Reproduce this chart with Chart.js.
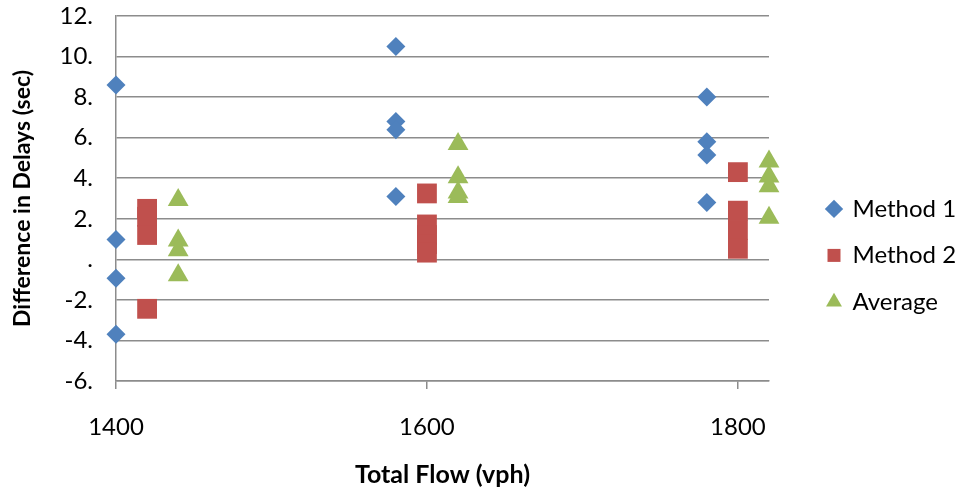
<!DOCTYPE html>
<html>
<head>
<meta charset="utf-8">
<script src="https://cdn.jsdelivr.net/npm/chart.js@4"></script>
<style>
  body { margin: 0; background: #fff; }
  #wrap { width: 966px; height: 494px; }
</style>
</head>
<body>
<div id="wrap"><canvas id="delay-chart" width="966" height="494"></canvas></div>
<script>
// values
const method1X = [1400, 1400, 1400, 1400, 1580, 1580, 1580, 1580, 1780, 1780, 1780, 1780];
const method1Y = [8.6, 0.98, -0.93, -3.7, 10.49, 6.8, 6.39, 3.1, 8.0, 5.8, 5.14, 2.8];

const method2X = [1420, 1420, 1420, 1420, 1600, 1600, 1600, 1600, 1600, 1800, 1800, 1800, 1800];
const method2Y = [2.49, 2.1, 1.2, -2.44, 3.25, 1.72, 1.2, 0.75, 0.33, 4.3, 2.4, 1.45, 0.52];

const averageX = [1440, 1440, 1440, 1440, 1620, 1620, 1620, 1620, 1820, 1820, 1820, 1820];
const averageY = [2.93, 0.93, 0.45, -0.78, 5.69, 4.05, 3.3, 3.07, 4.83, 4.09, 3.6, 2.05];

const xTicks = [1400, 1600, 1800];
const xTickLabels = ['1400', '1600', '1800'];
const yTicks = [-6, -4, -2, 0, 2, 4, 6, 8, 10, 12];
const yTickLabels = ['-6.', '-4.', '-2.', '.', '2.', '4.', '6.', '8.', '10.', '12.'];

const toPoints = (xs, ys) => xs.map((x, i) => ({ x: x, y: ys[i] }));

const font = 'Lato, "Open Sans", sans-serif';

const ctx = document.getElementById('delay-chart').getContext('2d');
new Chart(ctx, {
  type: 'scatter',
  data: {
    datasets: [
      {
        label: 'Method 1',
        data: toPoints(method1X, method1Y),
        pointStyle: 'rectRot',
        pointRadius: 9.5,
        backgroundColor: '#4F81BD',
        borderColor: '#4F81BD',
        borderWidth: 0,
        clip: false
      },
      {
        label: 'Method 2',
        data: toPoints(method2X, method2Y),
        pointStyle: 'rect',
        pointRadius: 14,
        backgroundColor: '#C0504D',
        borderColor: '#C0504D',
        borderWidth: 0,
        clip: false
      },
      {
        label: 'Average',
        data: toPoints(averageX, averageY),
        pointStyle: 'triangle',
        pointRadius: 12,
        backgroundColor: '#9BBB59',
        borderColor: '#9BBB59',
        borderWidth: 0,
        clip: false
      }
    ]
  },
  options: {
    responsive: false,
    animation: false,
    layout: { padding: 0 },
    plugins: {
      tooltip: { enabled: false },
      legend: {
        position: 'right',
        // empty title only pushes the items down a little
        title: { display: true, text: '', padding: 0, font: { size: 14 } },
        labels: {
          usePointStyle: true,
          boxWidth: 13,
          boxHeight: 13,
          padding: 22.5,
          color: '#000',
          font: { family: font, size: 24 }
        }
      }
    },
    scales: {
      x: {
        type: 'linear',
        min: 1400,
        max: 1820,
        afterBuildTicks: s => { s.ticks = xTicks.map(v => ({ value: v })); },
        afterFit: s => { s.height = 113; },
        grid: { drawOnChartArea: false, drawTicks: true, tickLength: 8, color: '#8c8c8c', lineWidth: 1.5 },
        border: { color: '#8c8c8c', width: 1.5 },
        ticks: {
          color: '#000',
          padding: 24,
          font: { family: font, size: 24 },
          callback: v => xTickLabels[xTicks.indexOf(v)]
        },
        title: {
          display: true,
          text: 'Total Flow (vph)',
          color: '#000',
          padding: { top: 0, bottom: 4 },
          font: { family: font, size: 25, weight: 'bold' }
        }
      },
      y: {
        type: 'linear',
        min: -6,
        max: 12,
        afterBuildTicks: s => { s.ticks = yTicks.map(v => ({ value: v })); },
        afterFit: s => { s.width = 116; s.paddingTop = 16; s.paddingBottom = 0; },
        grid: { drawTicks: false, color: '#8c8c8c', lineWidth: 1.5 },
        border: { color: '#8c8c8c', width: 1.5 },
        ticks: {
          color: '#000',
          padding: 23,
          font: { family: font, size: 24 },
          callback: v => yTickLabels[yTicks.indexOf(v)]
        },
        title: {
          display: true,
          text: 'Difference in Delays (sec)',
          color: '#000',
          padding: { top: 9, bottom: 0 },
          font: { family: font, size: 23, weight: 'bold' }
        }
      },
      // empty axis, only keeps the gap between plot and legend
      gap: {
        type: 'linear',
        position: 'right',
        display: true,
        afterFit: s => { s.width = 36; s.paddingTop = 0; s.paddingBottom = 0; },
        grid: { display: false },
        border: { display: false },
        ticks: { display: false }
      }
    }
  }
});
</script>
</body>
</html>
